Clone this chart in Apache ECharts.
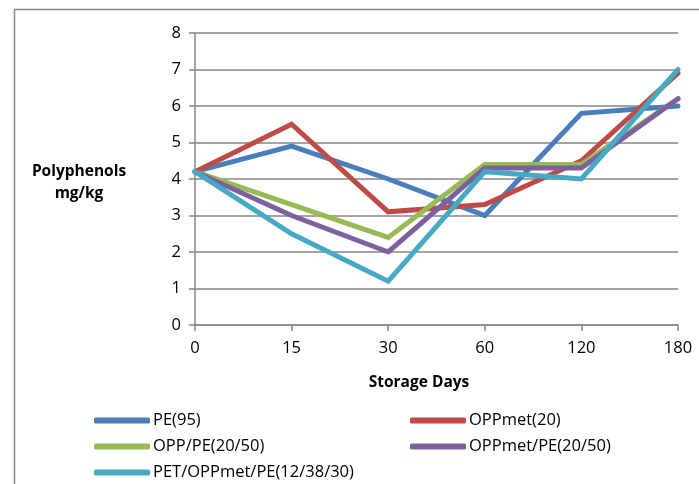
<!DOCTYPE html>
<html>
<head>
<meta charset="utf-8">
<script src="https://cdn.jsdelivr.net/npm/echarts@6/dist/echarts.min.js"></script>
<style>
html,body{margin:0;padding:0;background:#fff;}
#chart{width:699px;height:484px;}
</style>
</head>
<body>
<div id="chart"></div>
<script>
var categories = ['0', '15', '30', '60', '120', '180'];
var seriesNames = ['PE(95)', 'OPPmet(20)', 'OPP/PE(20/50)', 'OPPmet/PE(20/50)', 'PET/OPPmet/PE(12/38/30)'];
var pe95 = [4.2, 4.9, 4.0, 3.0, 5.8, 6.0];
var oppmet20 = [4.2, 5.5, 3.1, 3.3, 4.5, 6.9];
var oppPe2050 = [4.2, 3.3, 2.4, 4.4, 4.4, 6.2];
var oppmetPe2050 = [4.2, 3.0, 2.0, 4.3, 4.3, 6.2];
var petOppmetPe = [4.2, 2.5, 1.2, 4.2, 4.0, 7.0];
var yTicks = [0, 1, 2, 3, 4, 5, 6, 7, 8];
var xTitle = 'Storage Days';
var yTitle = 'Polyphenols\nmg/kg';

var colors = ['#4A7EBB', '#BE4B48', '#98B954', '#7D60A0', '#46AAC5'];
var values = [pe95, oppmet20, oppPe2050, oppmetPe2050, petOppmetPe];
var FONT = '"Open Sans", Lato, "Noto Sans", sans-serif';

var chart = echarts.init(document.getElementById('chart'), null, {renderer: 'canvas'});

var series = seriesNames.map(function (n, i) {
  return {
    name: n,
    type: 'line',
    data: values[i],
    symbol: 'none',
    lineStyle: {width: 5, color: colors[i], cap: 'round', join: 'miter'},
    itemStyle: {color: colors[i]},
    z: 2 + i,
    animation: false
  };
});

var legendCommon = {
  orient: 'vertical',
  icon: 'roundRect',
  itemWidth: 56,
  itemHeight: 6,
  itemGap: 5,
  textStyle: {fontFamily: FONT, fontSize: 16.5, color: '#000', padding: [0, 0, 0, -2], lineHeight: 21},
  padding: 0
};

chart.setOption({
  animation: false,
  color: colors,
  textStyle: {fontFamily: FONT},
  grid: {left: 195, right: 21, top: 33, bottom: 159, containLabel: false},
  xAxis: {
    type: 'category',
    data: categories,
    boundaryGap: false,
    axisLine: {lineStyle: {color: '#868686', width: 1.5}},
    axisTick: {show: true, length: 6, lineStyle: {color: '#868686', width: 1.5}},
    axisLabel: {fontFamily: FONT, fontSize: 16.5, color: '#000', margin: 15},
    splitLine: {show: false}
  },
  yAxis: {
    type: 'value',
    min: yTicks[0],
    max: yTicks[yTicks.length - 1],
    interval: 1,
    axisLine: {show: true, lineStyle: {color: '#868686', width: 1.5}},
    axisTick: {show: true, length: 6, lineStyle: {color: '#868686', width: 1.5}},
    axisLabel: {fontFamily: FONT, fontSize: 16.5, color: '#000', margin: 14},
    splitLine: {show: true, lineStyle: {color: '#868686', width: 1.5}}
  },
  legend: [
    Object.assign({}, legendCommon, {left: 94, top: 410, data: [seriesNames[0], seriesNames[2], seriesNames[4]]}),
    Object.assign({}, legendCommon, {left: 410, top: 410, data: [seriesNames[1], seriesNames[3]]})
  ],
  graphic: [
    {
      type: 'rect',
      left: 12, top: 7,
      shape: {x: 0, y: 0, width: 800, height: 600},
      style: {fill: 'none', stroke: '#888', lineWidth: 1.5},
      silent: true
    },
    {
      type: 'text',
      x: 79, y: 161,
      style: {text: yTitle, fontFamily: FONT, fontSize: 15.5, fontWeight: 'bold', fill: '#000', align: 'center', verticalAlign: 'top', lineHeight: 22},
      silent: true
    },
    {
      type: 'text',
      x: 419, y: 383,
      style: {text: xTitle, fontFamily: FONT, fontSize: 15.5, fontWeight: 'bold', fill: '#000', align: 'center', verticalAlign: 'middle'},
      silent: true
    }
  ],
  series: series
});
</script>
</body>
</html>
